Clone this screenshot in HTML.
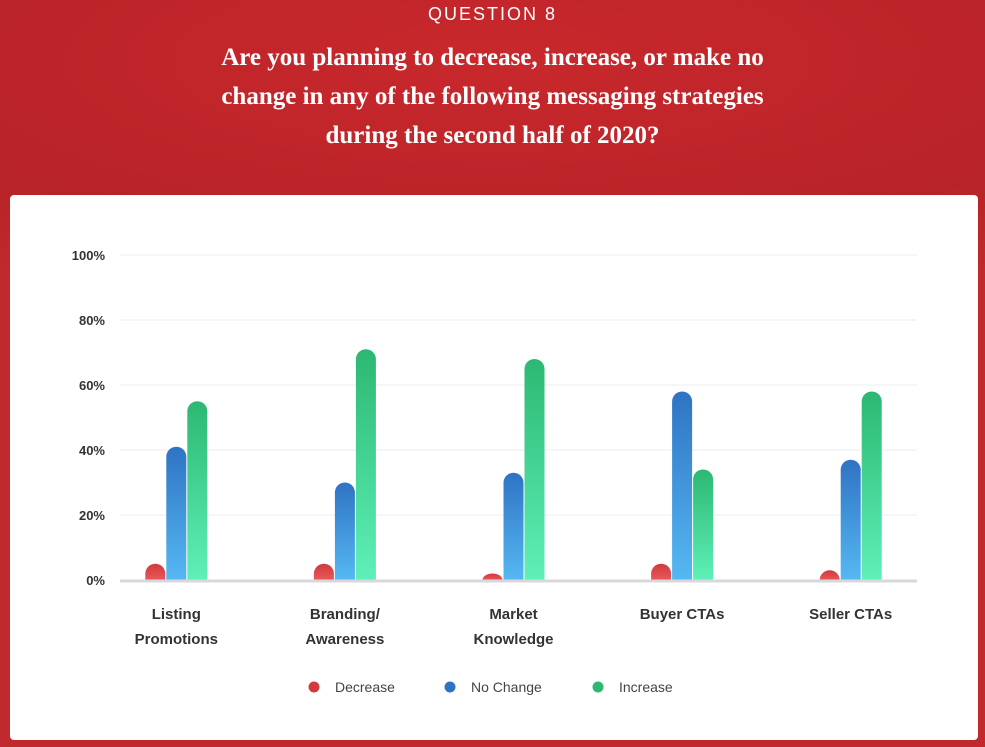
<!DOCTYPE html>
<html><head><meta charset="utf-8">
<style>
body{margin:0;width:985px;height:747px;overflow:hidden;font-family:"Liberation Sans",sans-serif;
background:radial-gradient(ellipse 900px 260px at 492px 60px,#c8282c 0%,#b82328 70%,#c02a2e 100%);position:relative}
.q{position:absolute;top:4px;left:0;width:985px;text-align:center;color:#fff;font-size:18px;letter-spacing:2px}
.t{position:absolute;top:38px;left:0;width:985px;text-align:center;color:#fff;font-family:"Liberation Serif",serif;font-weight:bold;font-size:25px;line-height:39px}
.card{position:absolute;left:10px;top:195px;width:968px;height:545px;background:#fff;border-radius:4px}
</style></head><body>
<div class="q">QUESTION 8</div>
<div class="t">Are you planning to decrease, increase, or make no<br>change in any of the following messaging strategies<br>during the second half of 2020?</div>
<div class="card"></div>
<svg id="c" width="985" height="747" style="position:absolute;left:0;top:0">
<defs>
<linearGradient id="gR" x1="0" y1="0" x2="0" y2="1"><stop offset="0" stop-color="#d23a3c"/><stop offset="1" stop-color="#e8585a"/></linearGradient>
<linearGradient id="gB" x1="0" y1="0" x2="0" y2="1"><stop offset="0" stop-color="#2f73c4"/><stop offset="1" stop-color="#55b8f2"/></linearGradient>
<linearGradient id="gG" x1="0" y1="0" x2="0" y2="1"><stop offset="0" stop-color="#2cb872"/><stop offset="1" stop-color="#5ef0b8"/></linearGradient>
</defs>
</svg>
<script>
const categories=[["Listing","Promotions"],["Branding/","Awareness"],["Market","Knowledge"],["Buyer CTAs"],["Seller CTAs"]];
const decrease=[5,5,2,5,3];
const noChange=[41,30,33,58,37];
const increase=[55,71,68,34,58];
const ticks=[0,20,40,60,80,100];
const svg=document.getElementById('c');const NS='http://www.w3.org/2000/svg';
const y0=580,y1=255,xL=120,xR=917,bandL=92,bandR=935;
const y=v=>y0-(v/100)*(y0-y1);
const bw=(bandR-bandL)/categories.length;
const xc=i=>bandL+bw*(i+0.5);
function mk(t,a){const e=document.createElementNS(NS,t);for(const k in a)e.setAttribute(k,a[k]);svg.appendChild(e);return e;}
ticks.forEach(t=>{
 const g=mk('line',{x1:xL,x2:xR,y1:y(t),y2:y(t),stroke:'#eeeeee','stroke-width':1});
 
 
 const l=mk('text',{x:105,y:y(t)+5,'text-anchor':'end','font-size':13,'font-weight':'bold',fill:'#333','font-family':'Liberation Sans, sans-serif'});
 l.textContent=t+'%';
 
 
});
const series=[[decrease,'url(#gR)','decrease',-21],[noChange,'url(#gB)','no-change',0],[increase,'url(#gG)','increase',21]];
categories.forEach((c,i)=>{
 series.forEach(s=>{
  const v=s[0][i],w=20,x=xc(i)+s[3]-w/2,top=y(v),r=10;
  const h=y0-top;
  let d;
  if(h>=r) d=`M${x},${y0}V${top+r}A${r},${r} 0 0 1 ${x+w},${top+r}V${y0}Z`;
  else d=`M${x},${y0}Q${x},${top} ${x+w/2},${top}Q${x+w},${top} ${x+w},${y0}Z`;
  if(h<r){const ry=Math.max(h,5);d=`M${x},${y0}A${w/2},${ry} 0 0 1 ${x+w},${y0}Z`;}
  const p=mk('path',{d:d,fill:s[1]});
  
  
 });
 c.forEach((ln,j)=>{
  const t=mk('text',{x:xc(i),y:619+j*25,'text-anchor':'middle','font-size':15,'font-weight':'bold',fill:'#333','font-family':'Liberation Sans, sans-serif'});
  t.textContent=ln;
  
  
 });
});
const base=mk('line',{x1:xL,x2:xR,y1:y0+1,y2:y0+1,stroke:'#d8d8dc','stroke-width':3});


[['Decrease','#d23a3c',314],['No Change','#2f73c4',450],['Increase','#2cb872',598]].forEach(l=>{
 const c=mk('circle',{cx:l[2],cy:687,r:5.5,fill:l[1]});
 
 
 const t=mk('text',{x:l[2]+21,y:692,'font-size':14,fill:'#444','font-family':'Liberation Sans, sans-serif'});
 t.textContent=l[0];
 
 
});
</script>
</body></html>
